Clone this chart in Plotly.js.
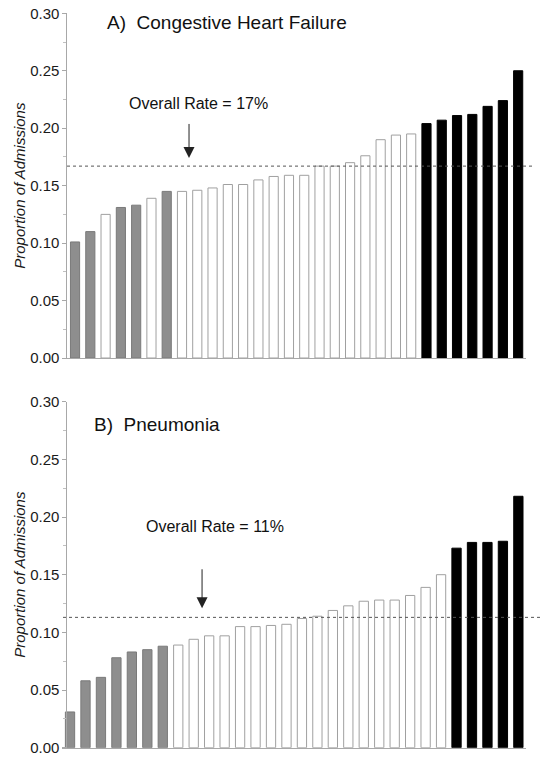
<!DOCTYPE html>
<html>
<head>
<meta charset="utf-8">
<script src="https://cdn.plot.ly/plotly-3.0.1.min.js"></script>
<style>
html,body{margin:0;padding:0;background:#fff;}
#chart{width:547px;height:760px;}
</style>
</head>
<body>
<div id="chart"></div>
<script>
// Hospitals ranked by proportion of admissions
var hospitals = [1,2,3,4,5,6,7,8,9,10,11,12,13,14,15,16,17,18,19,20,21,22,23,24,25,26,27,28,29,30];

// A) Congestive heart failure
var chfValues = [0.101,0.110,0.125,0.131,0.133,0.139,0.145,0.145,0.146,0.148,
                 0.151,0.151,0.155,0.158,0.159,0.159,0.167,0.167,0.170,0.176,
                 0.190,0.194,0.195,0.204,0.207,0.211,0.212,0.219,0.224,0.250];
var chfGroups = ['low','low','mid','low','low','mid','low','mid','mid','mid',
                 'mid','mid','mid','mid','mid','mid','mid','mid','mid','mid',
                 'mid','mid','mid','high','high','high','high','high','high','high'];
var chfOverall = 0.167;
var chfTitle = 'A)  Congestive Heart Failure';
var chfLabel = 'Overall Rate = 17%';

// B) Pneumonia
var pneuValues = [0.031,0.058,0.061,0.078,0.083,0.085,0.088,0.089,0.094,0.097,
                  0.097,0.105,0.105,0.106,0.107,0.112,0.114,0.119,0.123,0.127,
                  0.128,0.128,0.132,0.139,0.150,0.173,0.178,0.178,0.179,0.218];
var pneuGroups = ['low','low','low','low','low','low','low','mid','mid','mid',
                  'mid','mid','mid','mid','mid','mid','mid','mid','mid','mid',
                  'mid','mid','mid','mid','mid','high','high','high','high','high'];
var pneuOverall = 0.113;
var pneuTitle = 'B)  Pneumonia';
var pneuLabel = 'Overall Rate = 11%';

var yTickVals = [0, 0.05, 0.10, 0.15, 0.20, 0.25, 0.30];
var yAxisTitle = 'Proportion of Admissions';

var fillMap = {low:'#8e8e8e', mid:'#ffffff', high:'#000000'};
var lineMap = {low:'#7a7a7a', mid:'#a0a0a0', high:'#000000'};

function barTrace(vals, groups, xa, ya){
  return {
    type:'bar', x:hospitals, y:vals, xaxis:xa, yaxis:ya, width:0.6,
    marker:{color:groups.map(function(g){return fillMap[g];}),
            line:{color:groups.map(function(g){return lineMap[g];}), width:1}},
    hoverinfo:'y', showlegend:false
  };
}

var FONT = 'Liberation Sans, Arial, sans-serif';

function yAx(domain){
  return {
    domain:domain, range:[0,0.30], tickvals:yTickVals, tickformat:'.2f',
    showline:true, linecolor:'#a8a8a8', linewidth:1, zeroline:false, showgrid:false,
    ticks:'outside', ticklen:4, tickcolor:'#a8a8a8',
    minor:{dtick:0.025, ticks:'outside', ticklen:3, tickcolor:'#c0c0c0'},
    tickfont:{family:FONT, size:15, color:'#1a1a1a'},
    title:{text:yAxisTitle, font:{family:FONT, size:15, color:'#1a1a1a', style:'italic'}, standoff:0}
  };
}
function xAx(domain, anchor){
  return {
    domain:domain, anchor:anchor, range:[0.5,30.5], showticklabels:false, ticks:'',
    showline:true, linecolor:'#a8a8a8', linewidth:1, zeroline:false, showgrid:false
  };
}

var layout = {
  width:547, height:760,
  margin:{l:0,r:0,t:0,b:0},
  paper_bgcolor:'#fff', plot_bgcolor:'rgba(0,0,0,0)',
  xaxis: xAx([67.4/547, 525.8/547], 'y'),
  yaxis: yAx([1-358/760, 1-13.3/760]),
  xaxis2: xAx([62.3/547, 526.1/547], 'y2'),
  yaxis2: yAx([1-747.7/760, 1-401.7/760]),
  shapes:[
    {type:'line', xref:'paper', yref:'y', x0:67/547, x1:532/547, y0:chfOverall, y1:chfOverall,
     line:{color:'#555', width:1, dash:'dot'}, layer:'above'},
    {type:'line', xref:'paper', yref:'y2', x0:63/547, x1:543/547, y0:pneuOverall, y1:pneuOverall,
     line:{color:'#555', width:1, dash:'dot'}, layer:'above'}
  ],
  annotations:[
    {xref:'x', yref:'y', x:2.96, y:0.2916, text:chfTitle, showarrow:false, xanchor:'left', yanchor:'middle',
     font:{family:FONT, size:19, color:'#111'}},
    {xref:'x', yref:'y', x:9.05, y:0.2218, text:chfLabel, showarrow:false, xanchor:'center', yanchor:'middle',
     font:{family:FONT, size:16, color:'#111'}},
    {xref:'x', yref:'y', x:8.46, y:0.174, axref:'x', ayref:'y', ax:8.46, ay:0.205, text:'',
     showarrow:true, arrowhead:2, arrowsize:2.2, arrowwidth:1, arrowcolor:'#222'},
    {xref:'x2', yref:'y2', x:2.42, y:0.280, text:pneuTitle, showarrow:false, xanchor:'left', yanchor:'middle',
     font:{family:FONT, size:19, color:'#111'}},
    {xref:'x2', yref:'y2', x:10.38, y:0.1914, text:pneuLabel, showarrow:false, xanchor:'center', yanchor:'middle',
     font:{family:FONT, size:16, color:'#111'}},
    {xref:'x2', yref:'y2', x:9.54, y:0.121, axref:'x2', ayref:'y2', ax:9.54, ay:0.156, text:'',
     showarrow:true, arrowhead:2, arrowsize:2.2, arrowwidth:1, arrowcolor:'#222'}
  ]
};

Plotly.newPlot('chart', [
  barTrace(chfValues, chfGroups, 'x', 'y'),
  barTrace(pneuValues, pneuGroups, 'x2', 'y2')
], layout, {displayModeBar:false, staticPlot:true});
</script>
</body>
</html>
